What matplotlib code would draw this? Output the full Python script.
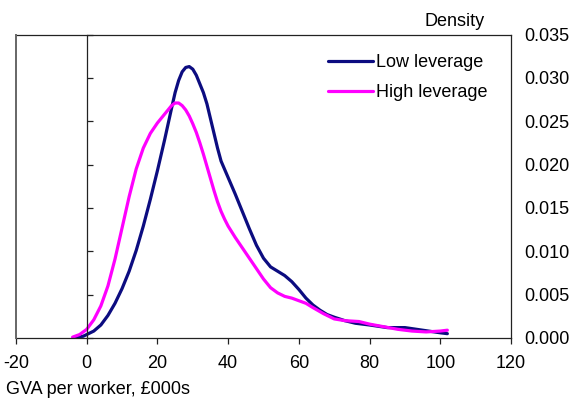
import matplotlib
matplotlib.use("Agg")
import matplotlib.pyplot as plt
from matplotlib.lines import Line2D

plt.rcParams['font.family'] = ['Liberation Sans', 'DejaVu Sans']

low_x = [-3, -1, 0, 2, 4, 6, 8, 10, 12, 14, 16, 18, 20, 22, 24, 25, 26, 27, 28, 29,
         30, 31, 32, 33, 34, 35, 36, 37, 38, 40, 42, 44, 46, 48, 50, 52, 54, 56, 58,
         60, 62, 64, 66, 68, 70, 73, 76, 80, 85, 90, 95, 100, 102]
low_y = [0.0001, 0.0002, 0.0004, 0.0008, 0.0015, 0.0026, 0.0040, 0.0057, 0.0077, 0.0101,
         0.0129, 0.0160, 0.0193, 0.0228, 0.0265, 0.0283, 0.0297, 0.0307, 0.0312, 0.0313,
         0.0310, 0.0303, 0.0293, 0.0283, 0.0270, 0.0253, 0.0236, 0.0219, 0.0204, 0.0185,
         0.0166, 0.0146, 0.0126, 0.0107, 0.0092, 0.0082, 0.0077, 0.0072, 0.0065,
         0.0056, 0.0046, 0.0038, 0.0032, 0.0027, 0.0024, 0.0020, 0.0017, 0.0015, 0.0012,
         0.0012, 0.0009, 0.0006, 0.0005]

high_x = [-4, -2, 0, 2, 4, 6, 8, 10, 12, 14, 16, 18, 20, 22, 23, 24, 25, 26, 27, 28,
          29, 30, 31, 32, 33, 34, 35, 36, 37, 38, 39, 40, 42, 44, 46, 48, 50, 52, 54,
          56, 58, 60, 62, 64, 67, 70, 73, 77, 80, 84, 88, 92, 96, 100, 102]
high_y = [0.0001, 0.0004, 0.0010, 0.0021, 0.0037, 0.0060, 0.0091, 0.0127, 0.0163, 0.0195,
          0.0219, 0.0236, 0.0248, 0.0258, 0.0263, 0.0268, 0.0271, 0.0271, 0.0268, 0.0263,
          0.0256, 0.0247, 0.0237, 0.0225, 0.0212, 0.0198, 0.0184, 0.0170, 0.0157, 0.0146,
          0.0137, 0.0129, 0.0116, 0.0104, 0.0092, 0.0080, 0.0068, 0.0058, 0.0052,
          0.0048, 0.0046, 0.0043, 0.0040, 0.0035, 0.0028, 0.0022, 0.0020, 0.0019,
          0.0016, 0.0013, 0.0010, 0.0008, 0.0007, 0.0008, 0.0009]

x_ticks = [-20, 0, 20, 40, 60, 80, 100, 120]
y_ticks = [0.000, 0.005, 0.010, 0.015, 0.020, 0.025, 0.030, 0.035]

fig = plt.figure(figsize=(5.74, 3.98), dpi=100)
ax = fig.add_axes([16/574, 1 - 338/398, (511-16)/574, (338-34.5)/398])

ax.plot(low_x, low_y, color='#0c0c80', lw=2.3, label='Low leverage',
        solid_capstyle='round', solid_joinstyle='round')
ax.plot(high_x, high_y, color='#ff00ff', lw=2.3, label='High leverage',
        solid_capstyle='round', solid_joinstyle='round')

ax.set_xlim(-20, 120)
ax.set_ylim(0, 0.035)
ax.set_xticks(x_ticks)
ax.set_xticklabels([str(v) for v in x_ticks])
ax.set_yticks(y_ticks)
ax.set_yticklabels([f"{v:.3f}" for v in y_ticks])

axis_col = '#222222'
for s in ax.spines.values():
    s.set_color(axis_col)
    s.set_linewidth(0.9)
ax.spines['left'].set_position(('data', 0))
ax.add_line(Line2D([0, 0], [0, 1], transform=ax.transAxes, color='#666666',
                   lw=1.4, clip_on=False, zorder=5))

ax.tick_params(axis='y', left=True, right=False, labelleft=False, labelright=True,
               direction='in', length=4.5, width=0.9, color=axis_col, labelsize=13, pad=9.5)
ax.tick_params(axis='x', direction='out', length=4.5, width=0.9, color=axis_col,
               labelsize=13, pad=7.5)

fig.text(485/574, 1 - 21/398, 'Density', ha='right', va='center', fontsize=13)
fig.text(6/574, 1 - 389/398, 'GVA per worker, £000s', ha='left', va='center', fontsize=13)

leg = ax.legend(loc='upper right', frameon=False, fontsize=13, handlelength=2.5,
                handletextpad=0.2, labelspacing=0.72, borderaxespad=0.0,
                bbox_to_anchor=((495 - 16) / 495, (338 - 47) / 303.5))

fig.savefig('out.png', dpi=100)
